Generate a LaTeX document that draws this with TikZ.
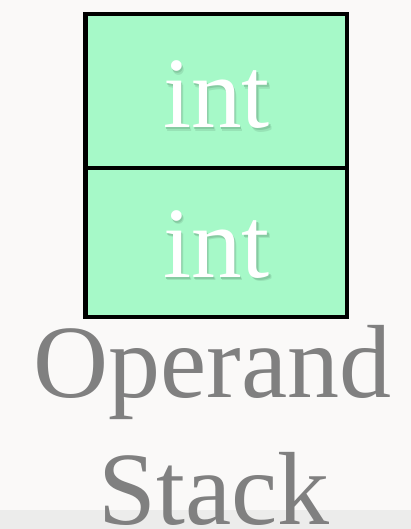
\documentclass[tikz,border=0pt]{standalone}
\usepackage{fontspec}
\setmainfont{Liberation Serif}
\definecolor{pagebg}{HTML}{FAF9F8}
\definecolor{bandbg}{HTML}{ECECEB}
\definecolor{slotfill}{HTML}{A6F9C8}
\definecolor{shadowsoft}{HTML}{97E3B6}
\definecolor{shadowcore}{HTML}{86CBA2}
\definecolor{captiongray}{HTML}{808080}
% white label with a soft drop shadow, set as one piece of text
\newcommand{\shadowed}[1]{%
  \makebox[0pt][l]{\hspace{2.5pt}\raisebox{-3.5pt}{\textcolor{shadowsoft}{#1}}}%
  \makebox[0pt][l]{\hspace{1.5pt}\raisebox{-2pt}{\textcolor{shadowcore}{#1}}}%
  \textcolor{white}{#1}}
\tikzset{
  slot/.style={draw=black, fill=slotfill, line width=4.5pt, minimum width=261.5pt, inner sep=0pt},
  slottext/.style={anchor=base, font=\fontsize{101}{101}\selectfont, inner sep=0pt},
  caption/.style={anchor=base, text=captiongray, font=\fontsize{104}{104}\selectfont, inner sep=0pt}
}
\begin{document}
\begin{tikzpicture}[x=1pt,y=-1pt]
  \useasboundingbox (0,0) rectangle (411,529);
  \fill[pagebg] (0,0) rectangle (411,529);
  \fill[bandbg] (0,510) rectangle (411,529);

  % two stack slots
  \node[slot, minimum height=154pt] (upper) at (216.25,91) {};
  \node[slot, minimum height=149pt] (lower) at (216.25,242.5) {};

  % slot labels
  \node[slottext] (upperlabel) at (216.5,128) {\shadowed{int}};
  \node[slottext] (lowerlabel) at (216.5,277) {\shadowed{int}};

  % caption
  \node[caption] (cap1) at (212.5,397) {Operand};
  \node[caption] (cap2) at (214,524) {Stack};
\end{tikzpicture}
\end{document}
